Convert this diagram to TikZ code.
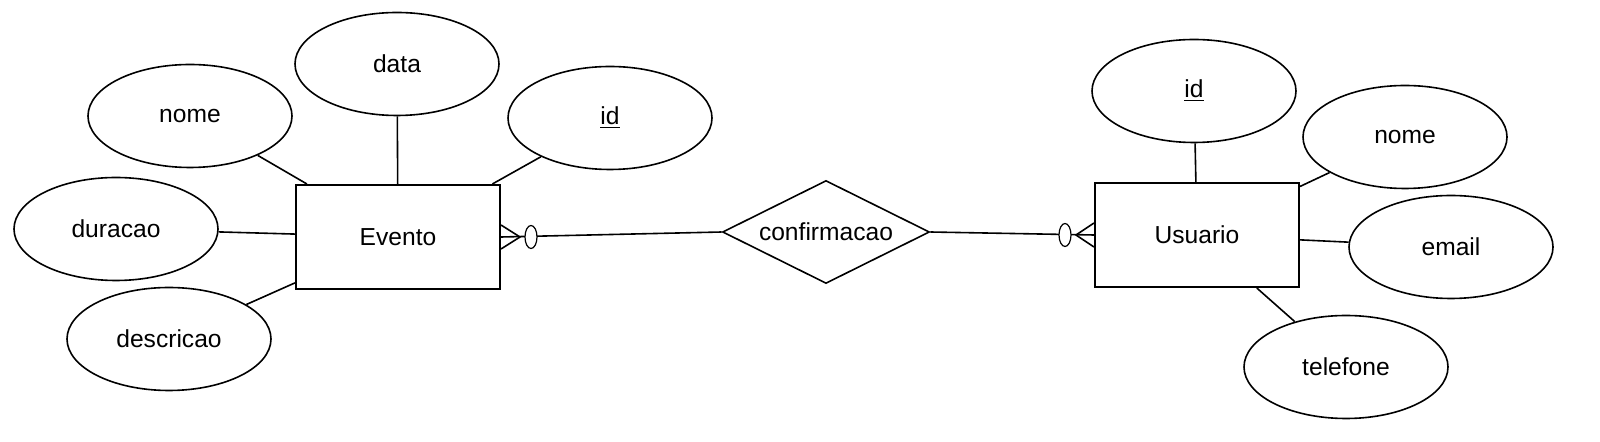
\documentclass[tikz,border=0pt]{standalone}
\usepackage{fontspec}
\setmainfont{Liberation Sans}
\usetikzlibrary{calc, shapes.geometric}
\tikzset{
  entity/.style={draw, line width=1pt, minimum width=102pt, minimum height=52pt, inner sep=0pt},
  attrib/.style={draw, ellipse, line width=0.8pt, minimum width=102pt, minimum height=51.5pt, inner sep=0pt},
  relat/.style={draw, diamond, aspect=2, line width=0.8pt, minimum width=103.5pt, minimum height=51.5pt, inner sep=0pt},
  zero/.style={draw, ellipse, fill=white, line width=0.6pt, minimum width=6pt, minimum height=11.5pt, inner sep=0pt},
  link/.style={line width=0.8pt}
}

\begin{document}
\begin{tikzpicture}[x=0.5pt, y=-0.5pt, font=\fontsize{12.3}{14}\selectfont]
\useasboundingbox (0,0) rectangle (1600,442);
% entities and relation
\node[entity] (evento) at (398,237) {Evento};
\node[entity] (usuario) at (1197,235) {Usuario};
\node[relat] (conf) at (826,232) {confirmacao};
% attributes of Evento
\node[attrib] (edata) at (397,64) {data};
\node[attrib] (enome) at (190,116) {nome};
\node[attrib] (eid) at (610,118) {\underline{id}};
\node[attrib] (eduracao) at (116,229) {duracao};
\node[attrib] (edescricao) at (169,339) {descricao};
% attributes of Usuario
\node[attrib] (uid) at (1194,91) {\underline{id}};
\node[attrib] (unome) at (1405,137) {nome};
\node[attrib] (uemail) at (1451,247) {email};
\node[attrib] (utelefone) at (1346,367) {telefone};

\foreach \a in {edata, enome, eid, eduracao, edescricao}
  \draw[link] (\a) -- (evento);
\foreach \a in {uid, unome, uemail, utelefone}
  \draw[link] (\a) -- (usuario);

% zero or many
\draw[link] (evento.east) -- (conf.west);
\draw[link] ($(evento.east)+(0,-12)$) -- ($(evento.east)+(19,0)$) -- ($(evento.east)+(0,12)$);
\node[zero] (ezero) at ($(evento.east)+(30,0)$) {};
\draw[link] (conf.east) -- (usuario.west);
\draw[link] ($(usuario.west)+(0,-12)$) -- ($(usuario.west)+(-18,0)$) -- ($(usuario.west)+(0,12)$);
\node[zero] (uzero) at ($(usuario.west)+(-29,0)$) {};
\end{tikzpicture}
\end{document}
